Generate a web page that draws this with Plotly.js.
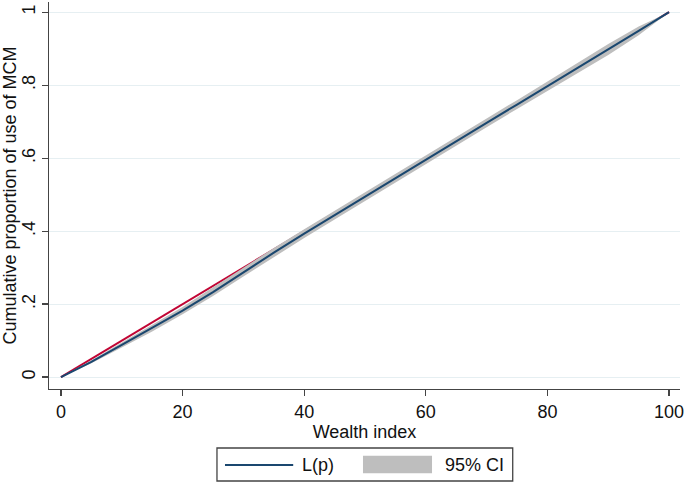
<!DOCTYPE html>
<html>
<head>
<meta charset="utf-8">
<script src="https://cdn.plot.ly/plotly-3.0.1.min.js"></script>
<style>
  html, body { margin: 0; padding: 0; background: #fff; }
  #chart { width: 685px; height: 484px; }
</style>
</head>
<body>
<div id="chart"></div>
<script>
/* Concentration curve data */
var wealth = [0, 5, 10, 15, 20, 25, 30, 35, 40, 45, 50, 55, 60, 65, 70, 75, 80, 85, 90, 95, 100];
var Lp     = [0, 0.042, 0.088, 0.134, 0.182, 0.233, 0.288, 0.341, 0.393, 0.444, 0.495, 0.546, 0.596, 0.647, 0.697, 0.747, 0.797, 0.848, 0.898, 0.949, 1];
var ciLow  = [0, 0.038, 0.081, 0.125, 0.172, 0.222, 0.276, 0.329, 0.381, 0.432, 0.483, 0.534, 0.584, 0.635, 0.685, 0.735, 0.784, 0.834, 0.883, 0.937, 1];
var ciHigh = [0, 0.046, 0.095, 0.143, 0.192, 0.246, 0.301, 0.354, 0.405, 0.456, 0.507, 0.558, 0.608, 0.659, 0.709, 0.759, 0.810, 0.862, 0.913, 0.961, 1];
var equalX = [0, 100];
var equalY = [0, 1];

var yTicks = [0, 0.2, 0.4, 0.6, 0.8, 1];
var yTickText = ['0', '.2', '.4', '.6', '.8', '1'];
var xTicks = [0, 20, 40, 60, 80, 100];

var navy = '#1a476f';
var band = 'rgb(190,190,190)';
var fnt = 'Liberation Sans, Arial, sans-serif';

var data = [
    {
        x: equalX, y: equalY, type: 'scatter', mode: 'lines',
        line: { color: '#c10534', width: 2 }, hoverinfo: 'skip'
    },
    {
        x: wealth, y: ciLow, type: 'scatter', mode: 'lines',
        line: { width: 0, color: band }, hoverinfo: 'skip'
    },
    {
        x: wealth, y: ciHigh, type: 'scatter', mode: 'lines',
        fill: 'tonexty', fillcolor: band,
        line: { width: 0, color: band }, hoverinfo: 'skip'
    },
    {
        x: wealth, y: Lp, type: 'scatter', mode: 'lines',
        line: { color: navy, width: 2 }, name: 'L(p)'
    }
];

var layout =
{
    width: 685,
    height: 484,
    margin: { l: 49, r: 5, t: 2, b: 95 },
    paper_bgcolor: '#ffffff',
    plot_bgcolor: '#ffffff',
    showlegend: false,
    font: { family: fnt, size: 18, color: '#111' },
    xaxis: {
        range: [-1.97, 101.8],
        tickvals: xTicks,
        ticks: 'outside', ticklen: 6, tickwidth: 1.3, tickcolor: '#444',
        showline: true, linecolor: '#444', linewidth: 1.3,
        showgrid: false, zeroline: false,
        tickfont: { size: 18 },
        title: { text: 'Wealth index', font: { size: 18 }, standoff: 0 }
    },
    yaxis: {
        range: [-0.0326, 1.028],
        tickvals: yTicks, ticktext: yTickText, tickangle: -90,
        ticks: 'outside', ticklen: 6, tickwidth: 1.3, tickcolor: '#444',
        showline: true, linecolor: '#444', linewidth: 1.3,
        showgrid: true, gridcolor: '#e6eff2', gridwidth: 1,
        zeroline: false,
        tickfont: { size: 18 },
        title: { text: 'Cumulative proportion of use of MCM', font: { size: 18 }, standoff: 3 }
    },
    shapes: [
        { type: 'rect', xref: 'paper', yref: 'paper', x0: 0.2662, x1: 0.7349, y0: -0.2377, y1: -0.1525,
          line: { color: '#444', width: 1.3 }, fillcolor: 'rgba(0,0,0,0)' },
        { type: 'line', xref: 'paper', yref: 'paper', x0: 0.2789, x1: 0.3870, y0: -0.1966, y1: -0.1966,
          line: { color: navy, width: 2 } },
        { type: 'rect', xref: 'paper', yref: 'paper', x0: 0.4976, x1: 0.6070, y0: -0.2178, y1: -0.1723,
          line: { width: 0 }, fillcolor: band }
    ],
    annotations: [
        { xref: 'paper', yref: 'paper', x: 0.3977, y: -0.1966, xanchor: 'left', yanchor: 'middle',
          text: 'L(p)', showarrow: false, font: { size: 18 } },
        { xref: 'paper', yref: 'paper', x: 0.6240, y: -0.1966, xanchor: 'left', yanchor: 'middle',
          text: '95% CI', showarrow: false, font: { size: 18 } }
    ]
}

var config = { staticPlot: true, displaylogo: false };

Plotly.newPlot('chart', data, layout, config);
</script>
</body>
</html>
